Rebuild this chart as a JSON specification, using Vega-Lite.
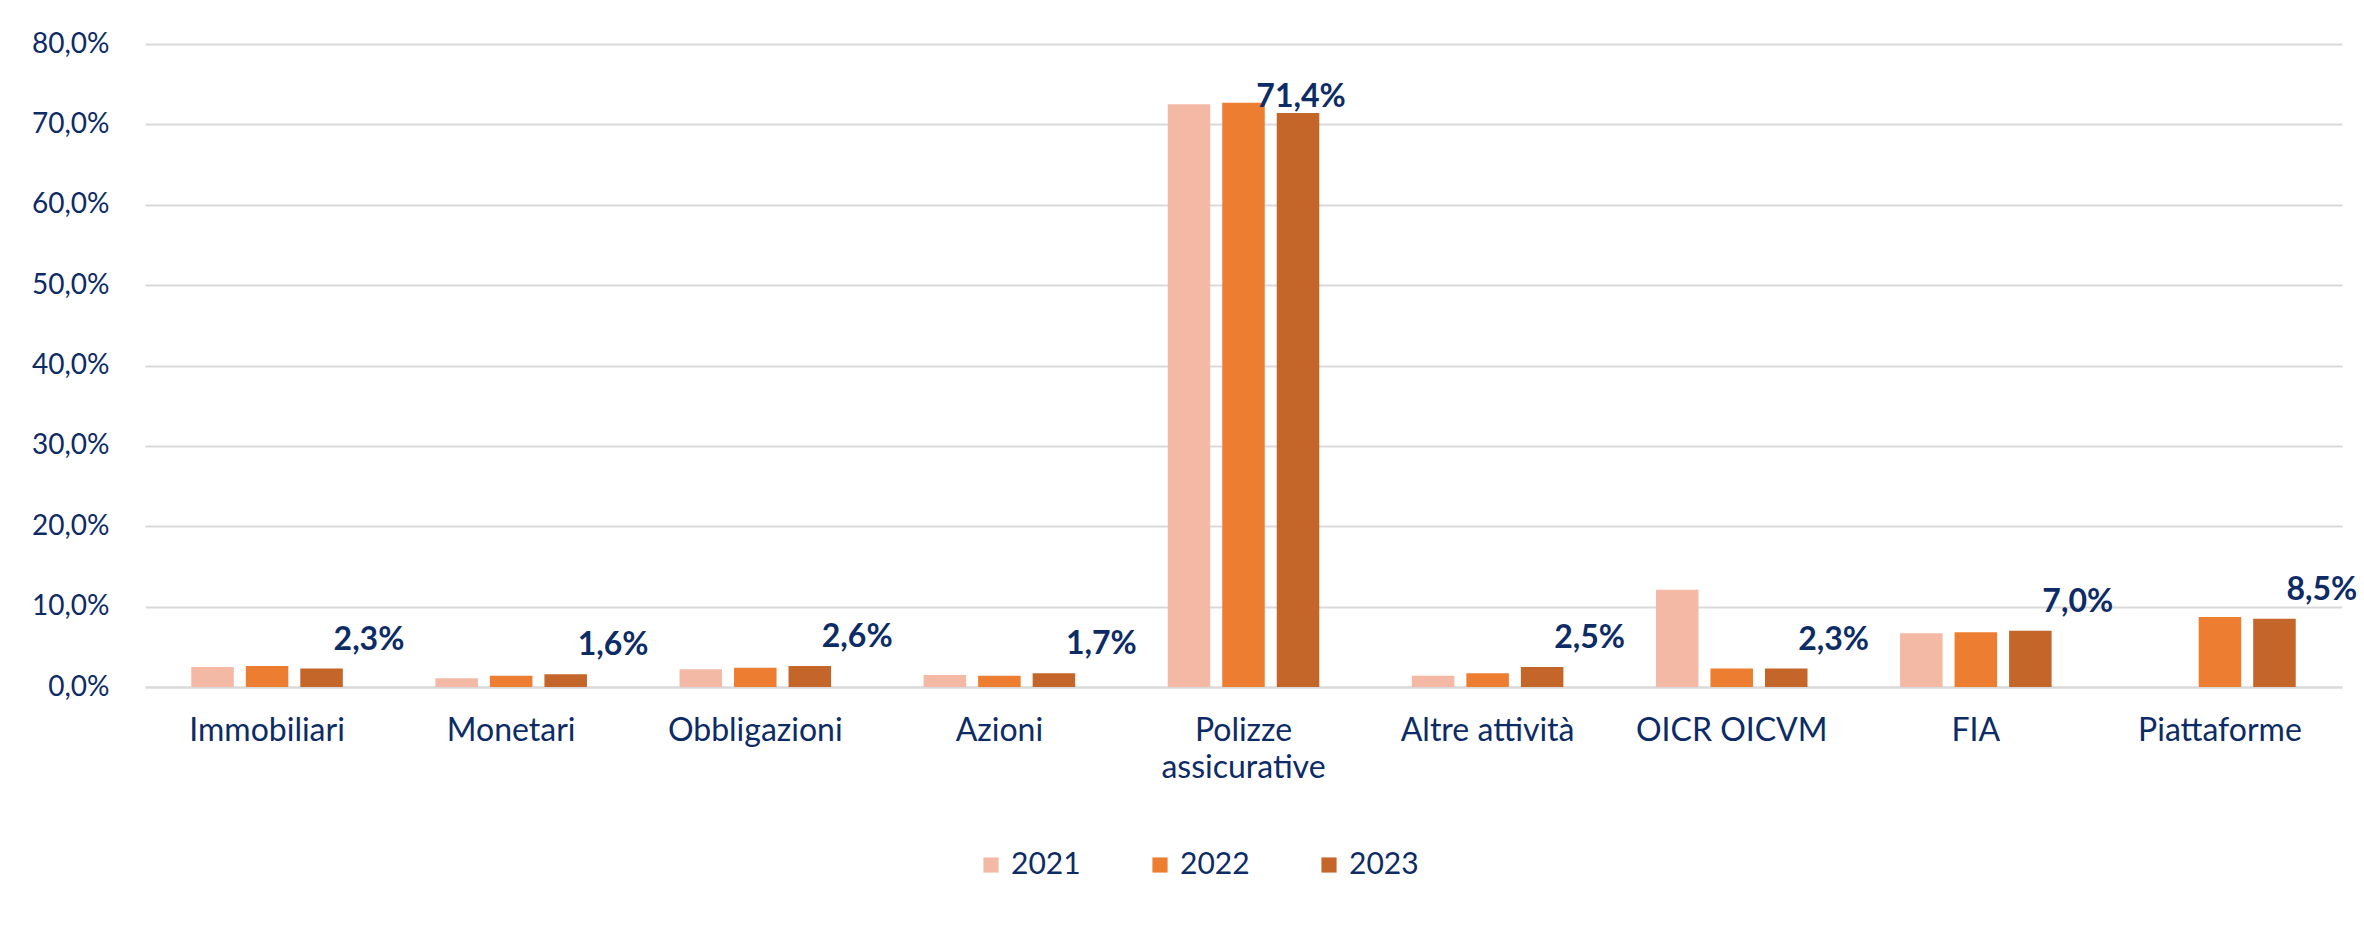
{
  "$schema": "https://vega.github.io/schema/vega-lite/v6.json",
  "width": 2197,
  "height": 643,
  "autosize": {"type": "none"},
  "padding": {"left": 145, "top": 44, "right": 22, "bottom": 240},
  "background": "white",
  "data": {
    "values": [
      {"categoria": "Immobiliari", "anno": "2021", "quota": 0.025},
      {"categoria": "Immobiliari", "anno": "2022", "quota": 0.026},
      {"categoria": "Immobiliari", "anno": "2023", "quota": 0.023},
      {"categoria": "Monetari", "anno": "2021", "quota": 0.011},
      {"categoria": "Monetari", "anno": "2022", "quota": 0.014},
      {"categoria": "Monetari", "anno": "2023", "quota": 0.016},
      {"categoria": "Obbligazioni", "anno": "2021", "quota": 0.022},
      {"categoria": "Obbligazioni", "anno": "2022", "quota": 0.024},
      {"categoria": "Obbligazioni", "anno": "2023", "quota": 0.026},
      {"categoria": "Azioni", "anno": "2021", "quota": 0.015},
      {"categoria": "Azioni", "anno": "2022", "quota": 0.014},
      {"categoria": "Azioni", "anno": "2023", "quota": 0.017},
      {"categoria": "Polizze assicurative", "anno": "2021", "quota": 0.725},
      {"categoria": "Polizze assicurative", "anno": "2022", "quota": 0.727},
      {"categoria": "Polizze assicurative", "anno": "2023", "quota": 0.714},
      {"categoria": "Altre attività", "anno": "2021", "quota": 0.014},
      {"categoria": "Altre attività", "anno": "2022", "quota": 0.017},
      {"categoria": "Altre attività", "anno": "2023", "quota": 0.025},
      {"categoria": "OICR OICVM", "anno": "2021", "quota": 0.121},
      {"categoria": "OICR OICVM", "anno": "2022", "quota": 0.023},
      {"categoria": "OICR OICVM", "anno": "2023", "quota": 0.023},
      {"categoria": "FIA", "anno": "2021", "quota": 0.067},
      {"categoria": "FIA", "anno": "2022", "quota": 0.068},
      {"categoria": "FIA", "anno": "2023", "quota": 0.070},
      {"categoria": "Piattaforme", "anno": "2022", "quota": 0.087},
      {"categoria": "Piattaforme", "anno": "2023", "quota": 0.085}
    ]
  },
  "encoding": {
    "x": {
      "field": "categoria",
      "type": "nominal",
      "sort": ["Immobiliari", "Monetari", "Obbligazioni", "Azioni", "Polizze assicurative", "Altre attività", "OICR OICVM", "FIA", "Piattaforme"],
      "scale": {"paddingInner": 0.33, "paddingOuter": 0.165},
      "title": null,
      "axis": {
        "labelAngle": 0,
        "labelFont": "Lato",
        "labelFontSize": 32,
        "labelColor": "#0D2B65",
        "labelBaseline": "top",
        "labelPadding": 28,
        "labelLineHeight": 37,
        "labelLimit": 500,
        "labelOverlap": false,
        "labelExpr": "datum.value == 'Polizze assicurative' ? ['Polizze', 'assicurative'] : datum.value",
        "ticks": false,
        "domainColor": "#D9D9D9",
        "domainWidth": 2,
        "grid": false
      }
    },
    "xOffset": {
      "field": "anno",
      "type": "nominal",
      "sort": ["2021", "2022", "2023"],
      "scale": {"domain": ["2021", "2022", "2023"], "paddingInner": 0.22, "paddingOuter": 0.11}
    },
    "y": {
      "field": "quota",
      "type": "quantitative",
      "scale": {"domain": [0, 0.8], "nice": false},
      "title": null,
      "axis": {
        "values": [0, 0.1, 0.2, 0.3, 0.4, 0.5, 0.6, 0.7, 0.8],
        "format": ".1%",
        "labelFont": "Lato",
        "labelFontSize": 28,
        "labelColor": "#0D2B65",
        "labelPadding": 36,
        "domain": false,
        "ticks": false,
        "gridColor": "#D9D9D9",
        "gridWidth": 2
      }
    }
  },
  "layer": [
    {
      "mark": {"type": "bar"},
      "encoding": {
        "color": {
          "field": "anno",
          "type": "nominal",
          "scale": {"domain": ["2021", "2022", "2023"], "range": ["#F4B9A5", "#ED7D31", "#C4652A"]},
          "legend": {
            "title": null,
            "orient": "none",
            "direction": "horizontal",
            "legendX": 831,
            "legendY": 806,
            "symbolType": "square",
            "symbolSize": 230,
            "symbolStrokeWidth": 0,
            "symbolOpacity": 1,
            "labelFont": "Lato",
            "labelFontSize": 30,
            "labelColor": "#0D2B65",
            "labelOffset": 5,
            "columnPadding": 64,
            "padding": 0
          }
        }
      }
    },
    {
      "transform": [{"filter": "datum.anno == '2023' && datum.categoria != 'Polizze assicurative'"}],
      "mark": {"type": "text", "align": "left", "baseline": "alphabetic", "dx": 12, "dy": -19, "font": "Lato", "fontWeight": "bold", "fontSize": 32, "color": "#0D2B65"},
      "encoding": {"text": {"field": "quota", "type": "quantitative", "format": ".1%"}}
    },
    {
      "transform": [{"filter": "datum.anno == '2023' && datum.categoria == 'Polizze assicurative'"}],
      "mark": {"type": "text", "align": "center", "baseline": "alphabetic", "dx": 3, "dy": -6, "font": "Lato", "fontWeight": "bold", "fontSize": 32, "color": "#0D2B65"},
      "encoding": {"text": {"field": "quota", "type": "quantitative", "format": ".1%"}}
    }
  ],
  "config": {
    "view": {"stroke": null},
    "font": "Lato",
    "locale": {"number": {"decimal": ",", "thousands": ".", "grouping": [3], "currency": ["", " €"]}}
  }
}
